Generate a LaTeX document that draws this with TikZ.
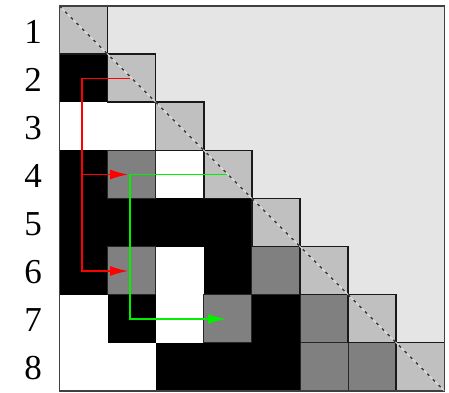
\documentclass[tikz,border=0pt]{standalone}
\usepackage{fontspec}
\setmainfont{Liberation Serif}
\usetikzlibrary{arrows.meta}
\definecolor{upperfill}{HTML}{E5E5E5}
\definecolor{diagfill}{HTML}{C0C0C0}
\definecolor{darkfill}{HTML}{808080}
\definecolor{arrred}{HTML}{FF0000}
\definecolor{arrgreen}{HTML}{00F000}
\begin{document}
\begin{tikzpicture}[x=1pt,y=-1pt,
  blackcell/.style={fill=black},
  whitecell/.style={fill=white},
  graycell/.style={fill=darkfill,draw=black!85,line width=1pt},
  diagcell/.style={fill=diagfill,draw=black!90,line width=1.5pt},
  rowlabel/.style={font=\fontsize{35}{35}\selectfont,inner sep=0pt},
  redline/.style={draw=arrred,line width=1.5pt},
  greenline/.style={draw=arrgreen,line width=1.5pt},
  arrowend/.style={-{Latex[length=18pt,width=10pt]}}
]
\useasboundingbox (0,0) rectangle (449,392);
\def\cs{48.1}
\def\xo{59.5}
\def\yo{6}
% upper triangle background
\fill[upperfill] (\xo,\yo) rectangle ++(8*\cs,8*\cs);
% black cells
\foreach \r/\c in {2/1,4/1,5/1,5/2,5/3,5/4,6/1,6/4,7/2,7/5,8/3,8/4,8/5}
  \path[blackcell] ({\xo+(\c-1)*\cs},{\yo+(\r-1)*\cs}) rectangle ++(\cs,\cs);
% white cells
\foreach \r/\c in {3/1,3/2,4/3,6/3,7/1,7/3,8/1,8/2}
  \path[whitecell] ({\xo+(\c-1)*\cs},{\yo+(\r-1)*\cs}) rectangle ++(\cs,\cs);
% dark gray cells
\foreach \r/\c in {4/2,6/2,6/5,7/4,7/6,8/6,8/7}
  \path[graycell] ({\xo+(\c-1)*\cs},{\yo+(\r-1)*\cs}) rectangle ++(\cs,\cs);
% diagonal cells
\foreach \i in {1,...,8}
  \path[diagcell] ({\xo+(\i-1)*\cs},{\yo+(\i-1)*\cs}) rectangle ++(\cs,\cs);
% outer frame
\draw[black!75,line width=1.4pt] (\xo,\yo) rectangle ++(8*\cs,8*\cs);
% diagonal dashed line
\coordinate (d0) at (\xo,\yo);
\coordinate (d1) at ({\xo+8*\cs},{\yo+8*\cs});
\draw[white!90!black,line width=1pt] (d0) -- (d1);
\draw[black!80,line width=1.2pt,dash pattern=on 3pt off 5pt] (d0) -- (d1);
% row labels
\foreach \i in {1,...,8}
  \node[rowlabel] (lab\i) at (33,{\yo+(\i-0.5)*\cs+1.5}) {\i};
% red arrows
\coordinate (r0) at (130,78.5);
\coordinate (r1) at (82,78.5);
\coordinate (r2) at (82,174.5);
\coordinate (r3) at (82,271);
\coordinate (rA) at (128,174.5);
\coordinate (rB) at (128,271);
\draw[redline,arrowend] (r0) -- (r1) -- (r3) -- (rB);
\draw[redline,arrowend] (r2) -- (rA);
% green arrow
\coordinate (g0) at (227,174.5);
\coordinate (g1) at (130,174.5);
\coordinate (g2) at (130,319);
\coordinate (g3) at (226,319);
\draw[greenline,arrowend] (g0) -- (g1) -- (g2) -- (g3);
\end{tikzpicture}
\end{document}
